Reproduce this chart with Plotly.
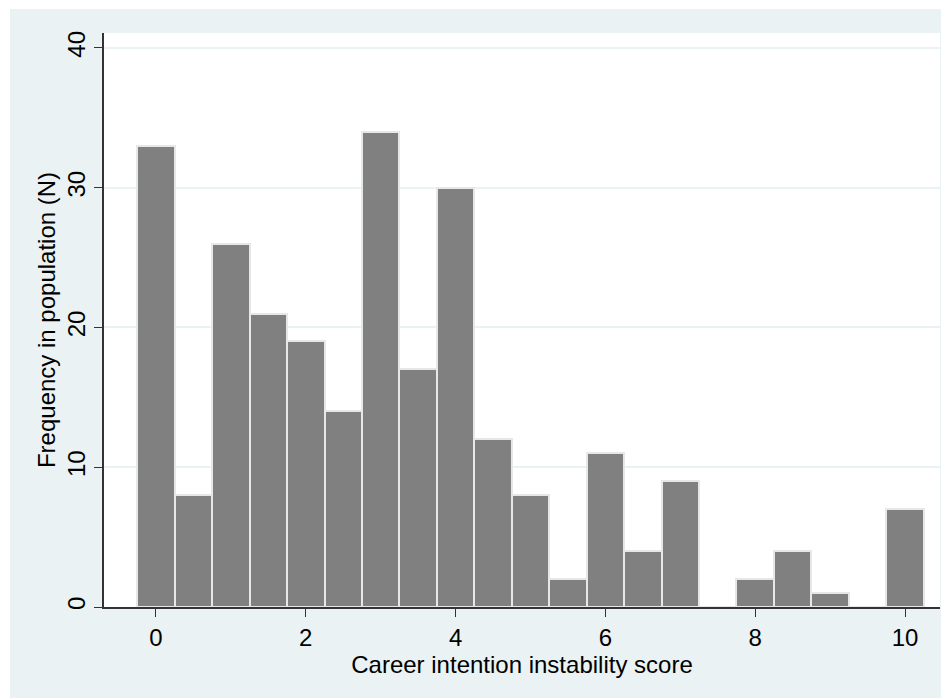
import plotly.graph_objects as go

bin_centers = [0, 0.5, 1, 1.5, 2, 2.5, 3, 3.5, 4, 4.5, 5, 5.5, 6, 6.5, 7, 7.5, 8, 8.5, 9, 9.5, 10]
frequencies = [33, 8, 26, 21, 19, 14, 34, 17, 30, 12, 8, 2, 11, 4, 9, 0, 2, 4, 1, 0, 7]
x_ticks = [0, 2, 4, 6, 8, 10]
y_ticks = [0, 10, 20, 30, 40]

BG = "#EAF2F3"
FONT = "Liberation Sans, Arial, sans-serif"

W, H = 941, 690
ML, MR, MT, MB = 96, 9, 25, 91
PW, PH = W - ML - MR, H - MT - MB

fig = go.Figure(go.Bar(
    x=bin_centers, y=frequencies, width=0.5,
    marker=dict(color="#808080", line=dict(color="#E6E8E8", width=2)),
))

fig.update_layout(
    width=W, height=H,
    margin=dict(l=ML, r=MR, t=MT, b=MB, autoexpand=False),
    paper_bgcolor=BG, plot_bgcolor="white",
    showlegend=False, bargap=0,
    font=dict(family=FONT, size=24, color="black"),
    shapes=[
        dict(type="rect", xref="paper", yref="paper", x0=-0.2, x1=1.1,
             y0=(PH + MT - 1) / PH, y1=1.2, fillcolor="white", line_width=0, layer="above"),
        dict(type="rect", xref="paper", yref="paper", x0=-0.2, x1=(2 - ML) / PW,
             y0=-0.3, y1=1.2, fillcolor="white", line_width=0, layer="above"),
    ],
)
fig.update_xaxes(
    range=[-0.694, 10.467], tickvals=x_ticks, ticks="outside", ticklen=8,
    tickcolor="#333", showline=True, linecolor="#333", linewidth=1.5,
    showgrid=False, zeroline=False,
    title=dict(text="Career intention instability score", standoff=0,
               font=dict(size=24)),
    tickfont=dict(size=24),
)
fig.update_yaxes(
    range=[0, 41.07], tickvals=y_ticks, ticks="outside", ticklen=8,
    tickcolor="#333", showline=True, linecolor="#333", linewidth=1.5,
    showgrid=True, gridcolor=BG, gridwidth=1.5, zeroline=False,
    tickangle=-90,
    title=dict(text="Frequency in population (N)", standoff=0,
               font=dict(size=24)),
    tickfont=dict(size=24),
)

fig.write_html("out.html")
